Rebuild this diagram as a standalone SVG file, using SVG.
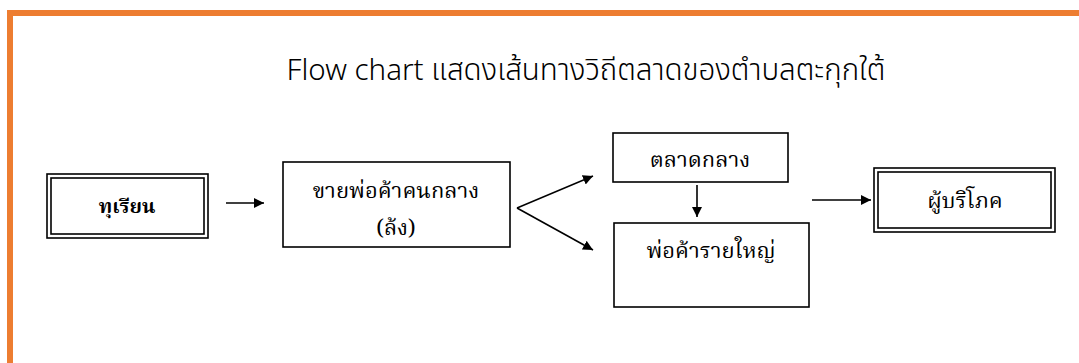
<svg xmlns="http://www.w3.org/2000/svg" width="1079" height="363" viewBox="0 0 1079 363">
<style>
.box{fill:#fff;stroke:#000;stroke-width:1.6}
.in{fill:none;stroke:#000;stroke-width:1.6}
.t{font-family:"Noto Serif Thai","Liberation Serif","DejaVu Serif",serif;font-size:22px;fill:#000;text-anchor:middle}
.b{font-weight:bold;font-size:20px}
.ln{stroke:#000;stroke-width:1.6;fill:none}
</style>
<defs>
<marker id="ah" viewBox="0 0 10 10" refX="10" refY="5" markerWidth="10" markerHeight="10" markerUnits="userSpaceOnUse" orient="auto">
<path d="M0,0 L10,5 L0,10 z" fill="#000"/>
</marker>
</defs>
<rect x="0" y="0" width="1079" height="363" fill="#fff"/>
<path d="M10,363 V13 H1079" fill="none" stroke="#ED7D31" stroke-width="6"/>
<text x="586" y="80" style="font-family:'Noto Sans','Noto Sans Thai','DejaVu Sans',sans-serif;font-size:29.5px;font-weight:300;text-anchor:middle;fill:#000">Flow chart แสดงเส้นทางวิถีตลาดของตำบลตะกุกใต้</text>
<g id="n1"><rect class="box" x="47" y="174" width="161" height="64"/><rect class="in" x="51" y="178" width="153" height="56"/><text class="t b" x="127" y="213">ทุเรียน</text></g>
<g id="n2"><rect class="box" x="283" y="162" width="227" height="85"/><text class="t" x="396" y="198">ขายพ่อค้าคนกลาง</text><text class="t" x="396" y="235">(ล้ง)</text></g>
<g id="n3"><rect class="box" x="613" y="133" width="175" height="49"/><text class="t" x="700" y="167">ตลาดกลาง</text></g>
<g id="n4"><rect class="box" x="614" y="223" width="195" height="84"/><text class="t" x="711" y="258">พ่อค้ารายใหญ่</text></g>
<g id="n5"><rect class="box" x="874" y="168" width="181" height="64"/><rect class="in" x="878" y="172" width="173" height="56"/><text class="t" x="965" y="208">ผู้บริโภค</text></g>
<g id="connectors">
<line class="ln" x1="226" y1="203" x2="264" y2="203" marker-end="url(#ah)"/>
<line class="ln" x1="517" y1="208" x2="593" y2="176" marker-end="url(#ah)"/>
<line class="ln" x1="517" y1="208" x2="593" y2="250" marker-end="url(#ah)"/>
<line class="ln" x1="697" y1="185" x2="697" y2="217" marker-end="url(#ah)"/>
<line class="ln" x1="812" y1="200" x2="871" y2="200" marker-end="url(#ah)"/>
</g>
</svg>
